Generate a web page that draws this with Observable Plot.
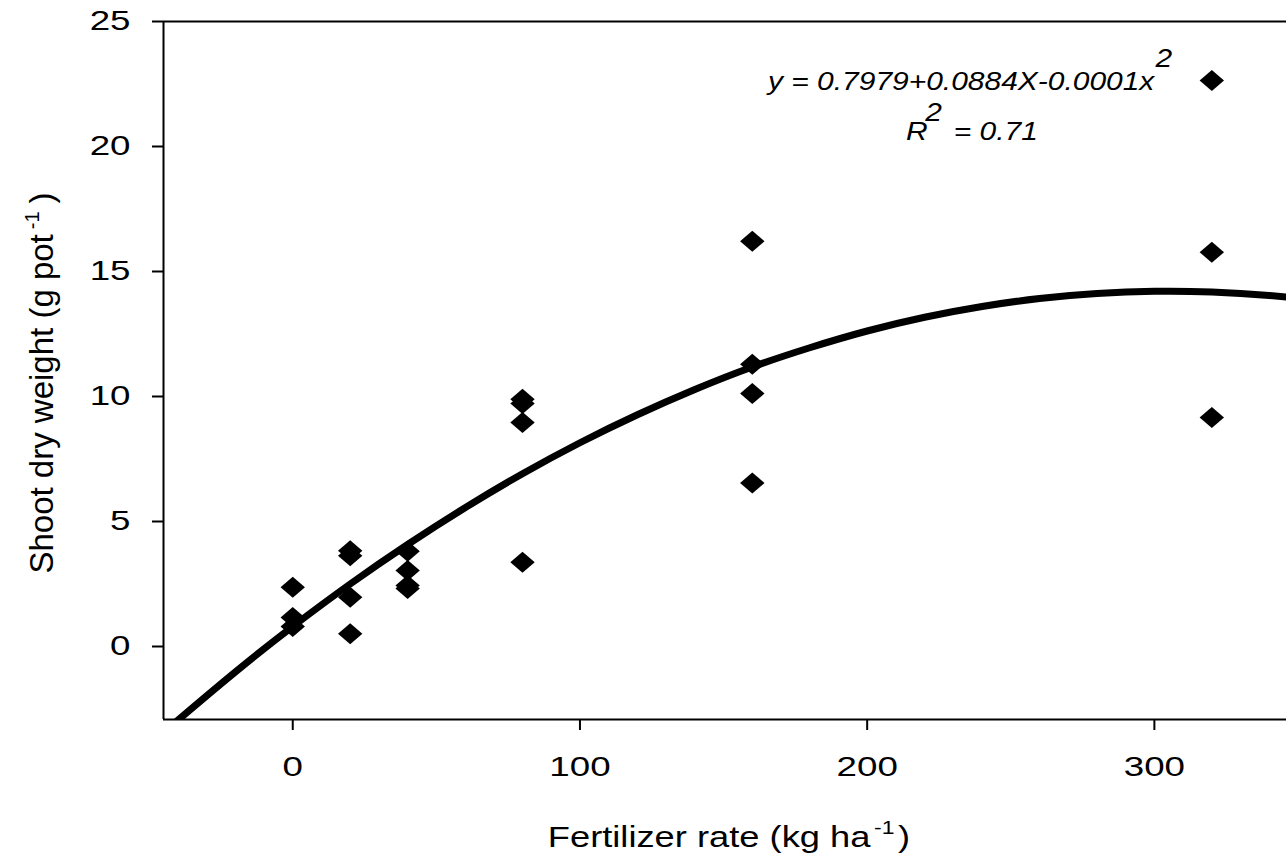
<!DOCTYPE html>
<html>
<head>
<meta charset="utf-8">
<script src="https://cdn.jsdelivr.net/npm/d3@7"></script>
<script src="https://cdn.jsdelivr.net/npm/@observablehq/plot@0.6"></script>
<style>
  html, body { margin: 0; padding: 0; background: #fff; }
  #chart svg { display: block; }
</style>
</head>
<body>
<div id="chart"></div>
<script>
// ---- data ----
const fertilizerRate = [0, 0, 0, 20, 20, 20, 20, 40, 40, 40, 40, 80, 80, 80, 80, 160, 160, 160, 160, 320, 320, 320];
const shootWeight   = [2.37, 1.16, 0.80, 3.83, 3.63, 1.97, 0.51, 3.81, 3.04, 2.44, 2.32, 9.89, 9.72, 8.96, 3.37, 16.21, 11.29, 10.12, 6.54, 22.64, 15.77, 9.16];

// fitted curve
const fitRate   = [-45, -40, -20, 0, 20, 40, 60, 80, 100, 120, 140, 160, 180, 200, 220, 240, 260, 280, 300, 320, 340, 350];
const fitWeight = [-3.45, -2.95, -1.02, 0.80, 2.50, 4.08, 5.55, 6.91, 8.15, 9.27, 10.28, 11.18, 11.95, 12.62, 13.17, 13.60, 13.92, 14.12, 14.21, 14.18, 14.04, 13.92];

const xTickValues = [0, 100, 200, 300];
const yTickValues = [0, 5, 10, 15, 20, 25];

const xTitle = ["Fertilizer rate (kg ha", "-1", ")"];
const yTitle = ["Shoot dry weight (g pot", "-1", ")"];
const equationMain = "y = 0.7979+0.0884X-0.0001x";
const equationSup = "2";
const r2Parts = ["R", "2", " = 0.71"];

// ---- layout ----
const W = 1286, H = 860;
const FONT = "'Liberation Sans', Arial, Helvetica, sans-serif";

const points = fertilizerRate.map((x, i) => ({x, y: shootWeight[i]}));
const fit = fitRate.map((x, i) => ({x, y: fitWeight[i]}));

const diamond = {
  draw(context, size) {
    const r = Math.sqrt(size / Math.PI);
    const hw = r * 1.22, hh = r * 1.05;
    context.moveTo(0, -hh);
    context.lineTo(hw, 0);
    context.lineTo(0, hh);
    context.lineTo(-hw, 0);
    context.closePath();
  }
};

const yMin = -2.92, yMax = 25, xMin = -45, xMax = 346;

const chart = Plot.plot({
  width: W,
  height: H,
  marginLeft: 163,
  marginRight: 0,
  marginTop: 21,
  marginBottom: 141,
  style: {fontFamily: FONT, color: "#000", background: "#fff", overflow: "visible"},
  x: {domain: [xMin, xMax]},
  y: {domain: [yMin, yMax]},
  marks: [
    Plot.axisX({ticks: xTickValues, tickSize: 11, tickPadding: 26, fontSize: 27, label: null, strokeWidth: 2, tickFormat: d => String(d)}),
    Plot.axisY({ticks: yTickValues, tickSize: 11, tickPadding: 22, fontSize: 27, label: null, strokeWidth: 2, tickFormat: d => String(d)}),
    Plot.ruleX([xMin], {stroke: "#000", strokeWidth: 2}),
    Plot.ruleY([yMin], {stroke: "#000", strokeWidth: 2}),
    Plot.ruleY([yMax], {stroke: "#000", strokeWidth: 2}),
    Plot.line(fit, {x: "x", y: "y", stroke: "#000", strokeWidth: 7, curve: "natural", clip: true}),
    Plot.dot(points, {x: "x", y: "y", symbol: diamond, r: 10, fill: "#000", stroke: "none"})
  ]
});

// widen the glyphs of tick labels along their baseline, as in the original
const TICK_STRETCH = 1.36;
chart.querySelectorAll("text").forEach(el => {
  const t = el.getAttribute("transform");
  if (t) {
    el.setAttribute("transform", `${t} scale(${TICK_STRETCH},1)`);
  } else {
    const x = +(el.getAttribute("x") || 0), y = +(el.getAttribute("y") || 0);
    el.removeAttribute("x"); el.removeAttribute("y");
    el.setAttribute("transform", `translate(${x},${y}) scale(${TICK_STRETCH},1)`);
  }
});

const svg = d3.select(chart);

// x axis title
const xt = svg.append("text")
  .attr("transform", `translate(729,847) scale(1.21,1)`)
  .attr("text-anchor", "middle")
  .attr("font-family", FONT).attr("font-size", 30).attr("fill", "#000");
xt.append("tspan").text(xTitle[0]);
xt.append("tspan").attr("dx", 3).attr("dy", -13).attr("font-size", 19).text(xTitle[1]);
xt.append("tspan").attr("dx", 3).attr("dy", 13).text(xTitle[2]);

// y axis title
const yt = svg.append("text")
  .attr("transform", `translate(53,383) rotate(-90)`)
  .attr("text-anchor", "middle")
  .attr("font-family", FONT).attr("font-size", 33).attr("fill", "#000");
yt.append("tspan").text(yTitle[0]);
yt.append("tspan").attr("dx", 5).attr("dy", -14).attr("font-size", 20).text(yTitle[1]);
yt.append("tspan").attr("dx", 8).attr("dy", 14).text(yTitle[2]);

// equation annotation
const eq = svg.append("text")
  .attr("transform", `translate(768,90) scale(1.17,1)`)
  .attr("text-anchor", "start")
  .attr("font-family", FONT).attr("font-size", 25.6).attr("font-style", "italic").attr("fill", "#000");
eq.append("tspan").text(equationMain);
eq.append("tspan").attr("dx", 1).attr("dy", -23).text(equationSup);

const r2 = svg.append("text")
  .attr("transform", `translate(906,140) scale(1.17,1)`)
  .attr("text-anchor", "start")
  .attr("font-family", FONT).attr("font-size", 25.6).attr("font-style", "italic").attr("fill", "#000");
r2.append("tspan").text(r2Parts[0]);
r2.append("tspan").attr("dx", -2).attr("dy", -19).text(r2Parts[1]);
r2.append("tspan").attr("dx", 3).attr("dy", 19).text(r2Parts[2]);

document.getElementById("chart").appendChild(chart);
</script>
</body>
</html>
